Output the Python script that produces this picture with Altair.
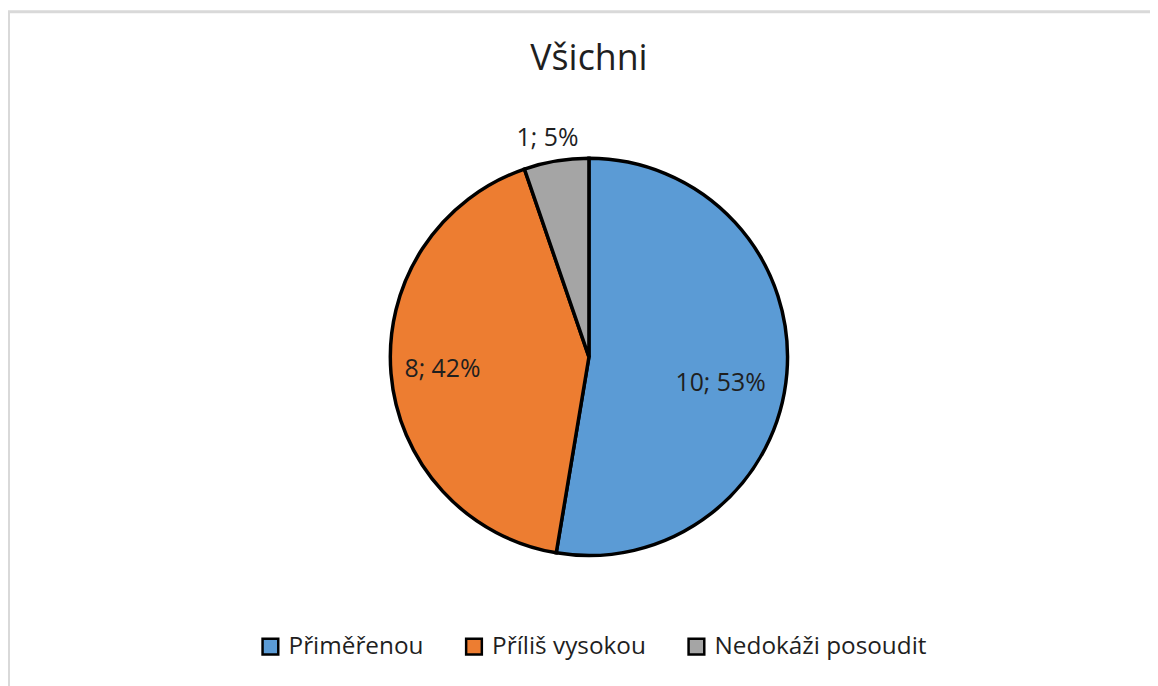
import altair as alt
import pandas as pd

title_text = "Všichni"
categories = ["Přiměřenou", "Příliš vysokou", "Nedokáži posoudit"]
values = [10, 8, 1]
colors = ["#5B9BD5", "#ED7D31", "#A5A5A5"]

total = sum(values)
labels = [f"{v}; {round(100 * v / total)}%" for v in values]
df = pd.DataFrame({"cat": categories, "value": values, "label": labels,
                   "ord": list(range(len(categories)))})

CX, CY = 585, 349
FONT = "Open Sans"
TXT = "#1f1f1f"

base = alt.Chart(df)

color_enc = alt.Color(
    "cat:N",
    scale=alt.Scale(domain=categories, range=colors),
    legend=alt.Legend(
        orient="none", legendX=252, legendY=628, direction="horizontal",
        title=None, symbolType="square", symbolSize=250,
        symbolStrokeColor="black", symbolStrokeWidth=2.5, symbolOpacity=1,
        labelFont=FONT, labelFontSize=24.5, labelColor=TXT, labelLimit=0,
        labelOffset=6, columnPadding=37, padding=0,
    ),
)

theta_enc = alt.Theta("value:Q", stack=True)
order_enc = alt.Order("ord:Q")

border = alt.Chart(alt.Data(values=[{"a": 1}])).mark_rect(
    fill=None, stroke="#d9d9d9", strokeWidth=3
).encode(x=alt.value(0.5), x2=alt.value(1300), y=alt.value(1.5), y2=alt.value(900))

arcs = base.mark_arc(outerRadius=200, stroke="black", strokeWidth=3.5).encode(
    theta=theta_enc, color=color_enc, order=order_enc,
    x=alt.value(CX), y=alt.value(CY),
)

def label_layer(cat, radius, dx=0, dy=0):
    return base.mark_text(
        radius=radius, dx=dx, dy=dy, font=FONT, fontSize=25, color=TXT,
        align="center", baseline="middle",
    ).encode(
        theta=theta_enc, order=order_enc,
        x=alt.value(CX), y=alt.value(CY),
        text=alt.condition(alt.datum.cat == cat, "label:N", alt.value("")),
    )

lab1 = label_layer(categories[0], 133, dy=15)
lab2 = label_layer(categories[1], 148)
lab3 = label_layer(categories[2], 223, dx=-5)

title = alt.Chart(alt.Data(values=[{"t": title_text}])).mark_text(
    font=FONT, fontSize=36, color=TXT, align="center", baseline="alphabetic"
).encode(x=alt.value(CX), y=alt.value(60), text="t:N")

chart = alt.layer(border, arcs, lab1, lab2, lab3, title).properties(
    width=1150, height=678, padding=0, autosize=alt.AutoSizeParams(type="none"),
    background="white",
).configure_view(stroke=None)

chart.save("out.html", embed_options={"renderer": "svg", "actions": False})
